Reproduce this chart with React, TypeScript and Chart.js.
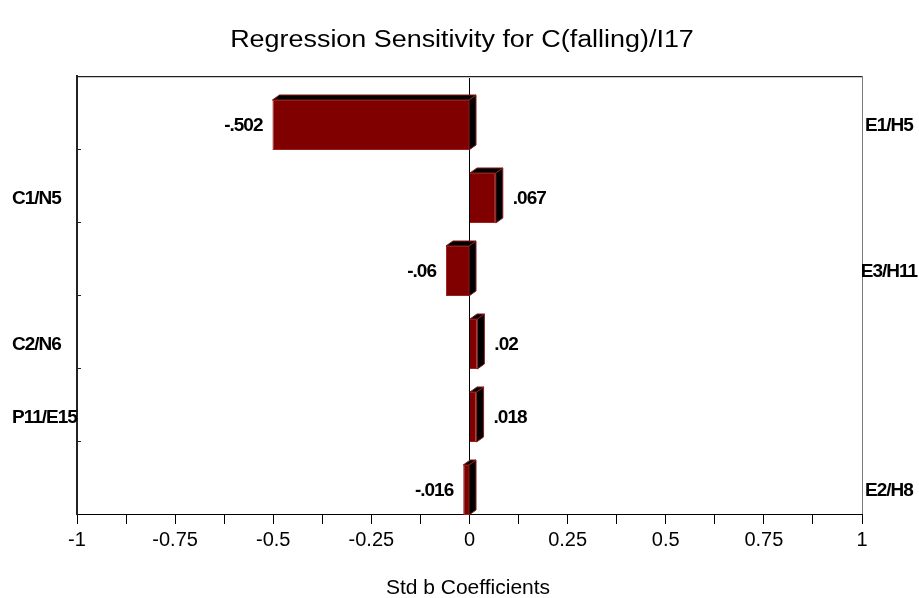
import React, { useEffect, useRef } from 'react';
import { Chart, registerables } from 'chart.js';

Chart.register(...registerables);

const titleText = 'Regression Sensitivity for C(falling)/I17';
const axisTitleText = 'Std b Coefficients';
const categories = ['E1/H5', 'C1/N5', 'E3/H11', 'C2/N6', 'P11/E15', 'E2/H8'];
const coefficients = [-0.502, 0.067, -0.06, 0.02, 0.018, -0.016];
const valueLabels = ['-.502', '.067', '-.06', '.02', '.018', '-.016'];
const labelSides = ['right', 'left', 'right', 'left', 'left', 'right'];
const tickValues = [-1, -0.75, -0.5, -0.25, 0, 0.25, 0.5, 0.75, 1];
const tickLabels = ['-1', '-0.75', '-0.5', '-0.25', '0', '0.25', '0.5', '0.75', '1'];

const FONT = '"Liberation Sans", Arial, Helvetica, sans-serif';
const SHIFT = 12.5; // front face sits at the bottom of its band
const DX = 7;
const DY = 5;

const decoPlugin = {
  id: 'deco',
  beforeDraw(chart: any) {
    chart.ctx.letterSpacing = '0px';
  },
  beforeDatasetsDraw(chart: any) {
    const ctx = chart.ctx;
    ctx.save();
    ctx.translate(0, SHIFT);
  },
  afterDatasetsDraw(chart: any) {
    const ctx = chart.ctx;
    const meta = chart.getDatasetMeta(0);
    meta.data.forEach((bar: any, i: number) => {
      const p = bar.getProps(['x', 'y', 'base', 'height'], true);
      const left = Math.min(p.x, p.base);
      const right = Math.max(p.x, p.base);
      const top = p.y - p.height / 2;
      const bottom = p.y + p.height / 2;
      ctx.fillStyle = '#000000';
      ctx.strokeStyle = '#8a1c1c';
      ctx.lineWidth = 1;
      // side face
      ctx.beginPath();
      ctx.moveTo(right, top);
      ctx.lineTo(right + DX, top - DY);
      ctx.lineTo(right + DX, bottom - DY);
      ctx.lineTo(right, bottom);
      ctx.closePath();
      ctx.fill();
      ctx.stroke();
      // top face
      ctx.beginPath();
      ctx.moveTo(left, top);
      ctx.lineTo(left + DX, top - DY);
      ctx.lineTo(right + DX, top - DY);
      ctx.lineTo(right, top);
      ctx.closePath();
      ctx.fill();
      ctx.stroke();
      // value label
      ctx.fillStyle = '#000';
      ctx.font = 'bold 19px ' + FONT;
      ctx.letterSpacing = '-1px';
      ctx.textBaseline = 'middle';
      if (coefficients[i] >= 0) {
        ctx.textAlign = 'left';
        ctx.fillText(valueLabels[i], right + 17, p.y + 1);
      } else {
        ctx.textAlign = 'right';
        ctx.fillText(valueLabels[i], left - 10, p.y + 1);
      }
    });
    ctx.letterSpacing = '0px';
    ctx.restore();
  },
  afterDraw(chart: any) {
    const ctx = chart.ctx;
    const area = chart.chartArea;
    const ys = chart.scales.y;
    ctx.save();
    // top border
    ctx.strokeStyle = '#222';
    ctx.lineWidth = 1;
    ctx.beginPath();
    ctx.moveTo(area.left, area.top + 0.5);
    ctx.lineTo(area.right, area.top + 0.5);
    ctx.stroke();
    ctx.strokeStyle = '#c8c8c8';
    ctx.beginPath();
    ctx.moveTo(area.left + 1, area.top + 1.5);
    ctx.lineTo(area.right, area.top + 1.5);
    ctx.stroke();
    // right border
    ctx.strokeStyle = '#7a7a7a';
    ctx.beginPath();
    ctx.moveTo(area.right + 0.5, area.top);
    ctx.lineTo(area.right + 0.5, area.bottom);
    ctx.stroke();
    // inward ticks on left axis at band boundaries
    ctx.strokeStyle = '#222';
    for (let i = 1; i < categories.length; i++) {
      const yb = Math.round((ys.getPixelForValue(i - 1) + ys.getPixelForValue(i)) / 2) + 0.5;
      ctx.beginPath();
      ctx.moveTo(area.left, yb);
      ctx.lineTo(area.left + 4, yb);
      ctx.stroke();
    }
    // category labels
    ctx.fillStyle = '#000';
    ctx.font = 'bold 19px ' + FONT;
    ctx.letterSpacing = '-1px';
    ctx.textBaseline = 'middle';
    categories.forEach((c, i) => {
      const y = ys.getPixelForValue(i) + SHIFT + 1;
      if (labelSides[i] === 'left') {
        ctx.textAlign = 'left';
        ctx.fillText(c, 12, y);
      } else {
        ctx.textAlign = 'center';
        ctx.fillText(c, area.right + 27, y);
      }
    });
    ctx.letterSpacing = '0px';
    // title (slightly wide lettering)
    ctx.save();
    ctx.font = '23px ' + FONT;
    ctx.textAlign = 'center';
    ctx.translate(462, 41);
    ctx.scale(1.17, 1);
    ctx.fillText(titleText, 0, 0);
    ctx.restore();
    // axis title
    ctx.font = '21px ' + FONT;
    ctx.textAlign = 'center';
    ctx.fillText(axisTitleText, 468, 588);
    ctx.restore();
  },
};

export default function App() {
  const ref = useRef<HTMLCanvasElement | null>(null);
  useEffect(() => {
    if (!ref.current) return;
    const chart = new Chart(ref.current, {
      type: 'bar',
      data: {
        labels: categories,
        datasets: [
          {
            data: coefficients,
            backgroundColor: '#800000',
            borderColor: '#9a2222',
            borderWidth: 1,
            barPercentage: 0.685,
            categoryPercentage: 1,
          },
        ],
      },
      options: {
        indexAxis: 'y',
        animation: false,
        responsive: false,
        devicePixelRatio: 1,
        layout: { padding: { left: 77, right: 57, top: 76, bottom: 0 } },
        plugins: {
          legend: { display: false },
          title: { display: false },
          tooltip: { enabled: false },
        },
        datasets: { bar: { clip: false } as any },
        scales: {
          x: {
            type: 'linear',
            min: -1,
            max: 1,
            afterFit: (s: any) => {
              s.height = 84;
            },
            afterBuildTicks: (s: any) => {
              const t = [];
              for (let k = -8; k <= 8; k++) t.push({ value: k / 8 });
              s.ticks = t;
            },
            ticks: {
              autoSkip: false,
              maxRotation: 0,
              padding: 4,
              color: '#000',
              font: { family: FONT, size: 20 },
              callback: (v: any) => {
                const idx = tickValues.findIndex((t) => Math.abs(t - Number(v)) < 1e-9);
                return idx >= 0 ? tickLabels[idx] : '';
              },
            },
            grid: {
              drawOnChartArea: true,
              color: (c: any) => (c.tick && Math.abs(c.tick.value) < 1e-9 ? '#000' : 'rgba(0,0,0,0)'),
              tickColor: '#000',
              tickLength: 10,
              lineWidth: 1,
            },
            border: { display: true, color: '#000', width: 1 },
          },
          y: {
            type: 'category',
            offset: true,
            afterFit: (s: any) => {
              s.width = 0;
            },
            ticks: { display: false },
            grid: { display: false, offset: true },
            border: { display: true, color: '#222', width: 2 },
          },
        },
      },
      plugins: [decoPlugin],
    } as any);
    return () => chart.destroy();
  }, []);
  return (
    <div style={{ position: 'fixed', left: 0, top: 0, width: 919, height: 598, background: '#fff' }}>
      <canvas ref={ref} width={919} height={598} style={{ display: 'block' }} />
    </div>
  );
}
